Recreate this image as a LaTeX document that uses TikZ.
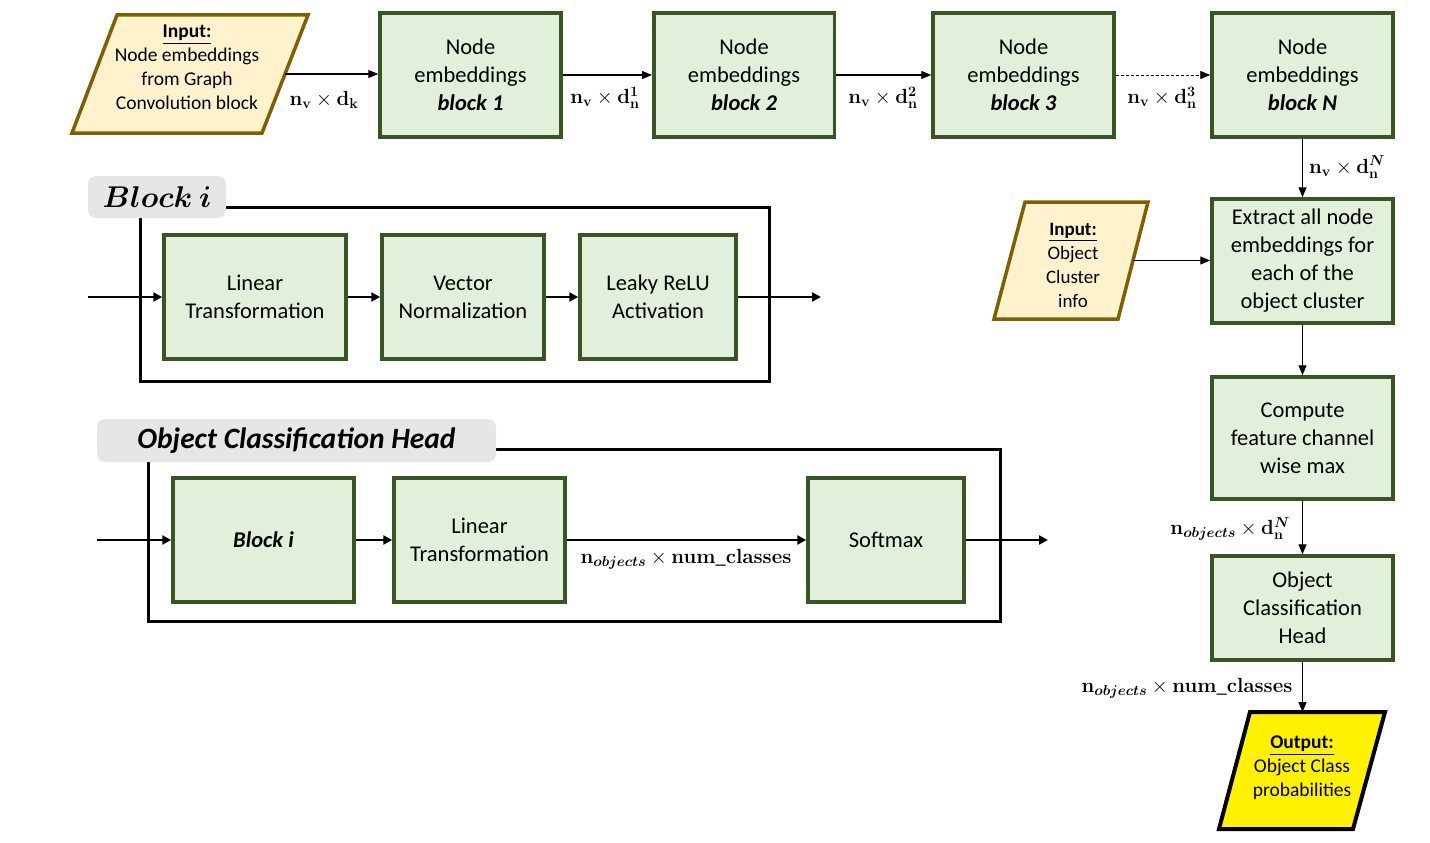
\RequirePackage{fix-cm}
\documentclass[tikz,border=0pt]{standalone}
\usepackage{amsmath}
\usepackage{amsbsy}
\usepackage[no-math]{fontspec}
\setmainfont{Carlito}
\usetikzlibrary{arrows.meta,calc}
\definecolor{gfill}{HTML}{E2EFDA}
\definecolor{gdraw}{HTML}{375623}
\definecolor{yfill}{HTML}{FFF2CC}
\definecolor{ydraw}{HTML}{7F6000}
\definecolor{lblfill}{HTML}{E7E6E6}
\newcommand{\bnv}{\mathbf{n}_{\mathbf{v}}}
\newcommand{\bno}{\mathbf{n}_{\boldsymbol{objects}}}
\newcommand{\bdn}[1]{\mathbf{d}_{\mathbf{n}}^{#1}}
\newcommand{\bnc}{\mathbf{num\_classes}}
\begin{document}
\begin{tikzpicture}[x=1pt,y=-1pt,
  box/.style={draw=gdraw, fill=gfill, line width=3.5pt, align=center, inner sep=0pt,
    font=\fontsize{22.5}{28}\selectfont},
  intext/.style={align=center, inner sep=0pt, font=\fontsize{19.5}{24}\selectfont},
  dimlbl/.style={inner sep=1pt, font=\fontsize{20.5}{24}\selectfont},
  arr/.style={line width=1.1pt, -{Triangle[length=10pt,width=8pt]}},
  arrT/.style={line width=2.4pt, -{Triangle[length=9pt,width=9pt]}},
  frame/.style={line width=3pt, draw=black},
  lblbox/.style={fill=lblfill, rounded corners=8pt, inner sep=0pt}]
\useasboundingbox (0,0) rectangle (1430,843);

% ---------- top row ----------
\draw[ydraw, fill=yfill, line width=3.5pt] (117,15) coordinate (i1a) -- (308,15) coordinate (i1b)
  -- (262,133) coordinate (i1c) -- (72,133) coordinate (i1d) -- cycle;
\coordinate (inR) at ($(i1b)!0.5!(i1c)$);
\node[intext] (intxt) at (187,67) {\underline{\textbf{Input:}}\\Node embeddings\\from Graph\\Convolution block};

\node[box, minimum width=181, minimum height=124] (b1) at (470.5,75) {Node\\embeddings\\\textbf{\textit{block 1}}};
\node[box, minimum width=180.5, minimum height=124] (b2) at (744,75) {Node\\embeddings\\\textbf{\textit{block 2}}};
\node[box, minimum width=181, minimum height=124] (b3) at (1023.5,75) {Node\\embeddings\\\textbf{\textit{block 3}}};
\node[box, minimum width=181, minimum height=124] (bN) at (1302.5,75) {Node\\embeddings\\\textbf{\textit{block N}}};

\draw[arr] (inR) -- (inR -| b1.west);
\draw[arr] (b1.east) -- (b2.west);
\draw[arr] (b2.east) -- (b3.west);
\draw[arr, line width=0.9pt, densely dashed] (b3.east) -- (bN.west);

\node[dimlbl] (lz) at (324,100) {$\bnv\times\mathbf{d}_{\mathbf{k}}$};
\node[dimlbl] (la) at (605,98) {$\bnv\times\bdn{\mathbf{1}}$};
\node[dimlbl] (lb) at (883,98) {$\bnv\times\bdn{\mathbf{2}}$};
\node[dimlbl] (lc) at (1162,98) {$\bnv\times\bdn{\mathbf{3}}$};

% ---------- right column ----------
\node[box, minimum width=181, minimum height=124] (ext) at (1302.5,261) {Extract all node\\embeddings for\\each of the\\object cluster};
\node[box, minimum width=181, minimum height=122] (cmp) at (1302.5,438) {Compute\\feature channel\\wise max};
\node[box, minimum width=181, minimum height=104] (och) at (1302.5,608) {Object\\Classification\\Head};

\draw[arr] (bN.south) -- (ext.north);
\node[dimlbl] (lN) at (1347,167) {$\bnv\times\bdn{\boldsymbol{N}}$};

\draw[ydraw, fill=yfill, line width=3.5pt] (1025,202) coordinate (i2a) -- (1148,202) coordinate (i2b)
  -- (1118,319) coordinate (i2c) -- (994,319) coordinate (i2d) -- cycle;
\coordinate (clR) at ($(i2b)!0.5!(i2c)$);
\node[intext, font=\fontsize{19}{24}\selectfont] (cltxt) at (1073,265) {\underline{\textbf{Input:}}\\Object\\Cluster\\info};
\draw[arr] (clR) -- (clR -| ext.west);

\draw[arr] (ext.south) -- (cmp.north);
\draw[arr] (cmp.south) -- (och.north);
\node[dimlbl, anchor=east] (lobj) at (1291,529) {$\bno\times\bdn{\boldsymbol{N}}$};

\draw[black, fill=yellow, line width=4pt] (1250,712) coordinate (oa) -- (1385,712) coordinate (ob)
  -- (1353,829) coordinate (oc) -- (1219,829) coordinate (od) -- cycle;
\node[intext] (outtxt) at (1302,768) {\underline{\textbf{Output:}}\\Object Class\\probabilities};
\draw[arr] (och.south) -- (och.south |- oa);
\node[dimlbl] (lcls) at (1187,688) {$\bno\times\bnc$};

% ---------- Block i ----------
\draw[frame] (140,207) rectangle (769,381);
\node[lblbox, minimum width=138, minimum height=42] (bil) at (157,197) {\fontsize{30}{34}\selectfont$\boldsymbol{Block\ i}$};
\node[box, minimum width=182, minimum height=124] (lt) at (255,297) {Linear\\Transformation};
\node[box, minimum width=162, minimum height=124] (vn) at (463,297) {Vector\\Normalization};
\node[box, minimum width=156, minimum height=124] (lr) at (658,297) {Leaky ReLU\\Activation};
\coordinate (bin) at (88,297);
\coordinate (bout) at (821,297);
\draw[arrT] (bin) -- (lt.west);
\draw[arrT] (lt.east) -- (vn.west);
\draw[arrT] (vn.east) -- (lr.west);
\draw[arrT] (lr.east) -- (bout);

% ---------- Object Classification Head ----------
\draw[frame] (148,449) rectangle (1000,621);
\node[lblbox, minimum width=399, minimum height=43] (ochl) at (296.5,440.5) {\fontsize{29.5}{34}\selectfont\textbf{\textit{Object Classification Head}}};
\node[box, minimum width=181, minimum height=124] (bi) at (263.5,540) {\textbf{\textit{Block i}}};
\node[box, minimum width=171, minimum height=124] (lt2) at (479.5,540) {Linear\\Transformation};
\node[box, minimum width=156, minimum height=124] (sm) at (886,540) {Softmax};
\coordinate (oin) at (97,540);
\coordinate (oout) at (1048,540);
\draw[arrT] (oin) -- (bi.west);
\draw[arrT] (bi.east) -- (lt2.west);
\draw[arrT] (lt2.east) -- (sm.west);
\draw[arrT] (sm.east) -- (oout);
\node[dimlbl] (lcls2) at (686,559) {$\bno\times\bnc$};
\end{tikzpicture}
\end{document}
